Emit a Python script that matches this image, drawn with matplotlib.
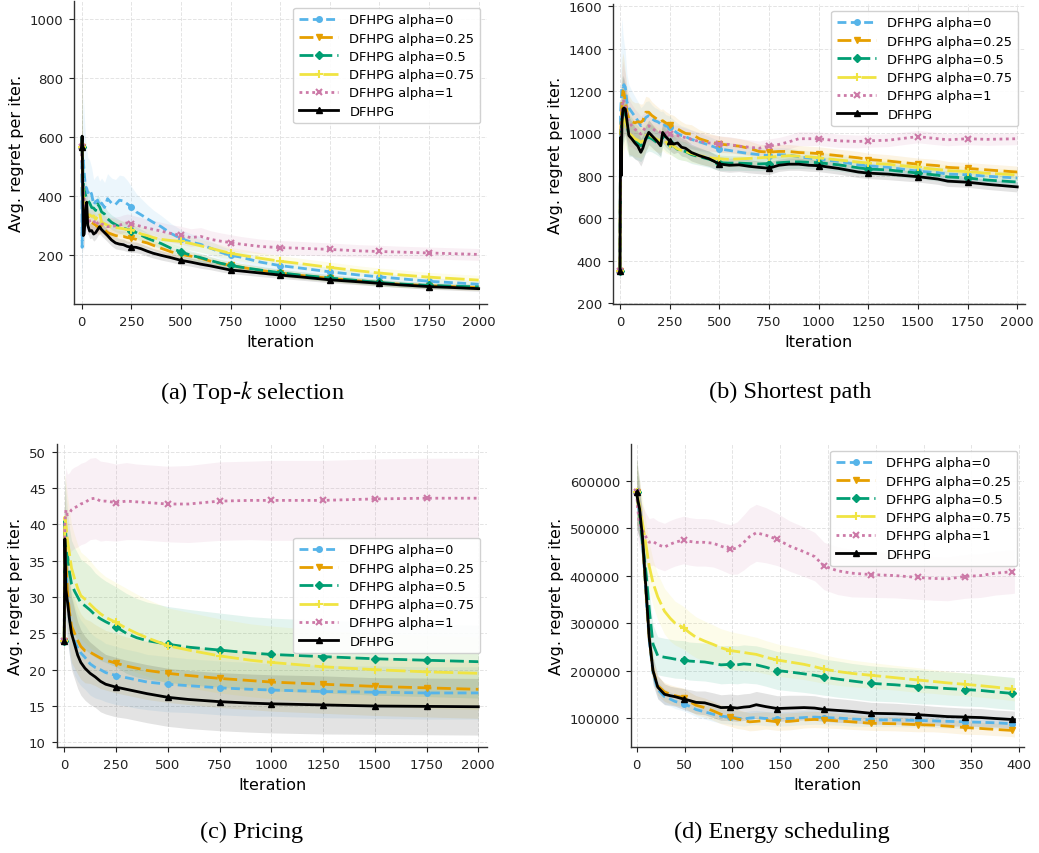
import matplotlib
matplotlib.use("Agg")
import matplotlib.pyplot as plt
import numpy as np

plt.rcParams["font.family"] = ["DejaVu Sans"]
plt.rcParams["mathtext.fontset"] = "stix"

# ---------------------------------------------------------------- labels
series_labels = ["DFHPG alpha=0", "DFHPG alpha=0.25", "DFHPG alpha=0.5",
                 "DFHPG alpha=0.75", "DFHPG alpha=1", "DFHPG"]
captions = ["(a) Top-$k$ selection", "(b) Shortest path",
            "(c) Pricing", "(d) Energy scheduling"]
x_label = "Iteration"
y_label = "Avg. regret per iter."

# ---------------------------------------------------------------- (a) Top-k selection
a_x = [0, 2, 5, 8, 12, 16, 20, 25, 30, 40, 50, 60, 70, 80, 90, 100, 115, 130, 150, 170,
       190, 210, 230, 250, 275, 300, 330, 360, 400, 450, 500, 550, 600, 650, 700, 750, 800,
       900, 1000, 1100, 1250, 1400, 1500, 1600, 1750, 1900, 2000]
a_alpha0 = [565, 225, 470, 520, 480, 450, 430, 425, 410, 420, 405, 370, 380, 385, 365, 375,
            360, 390, 375, 370, 385, 382, 372, 362, 345, 335, 322, 310, 295, 272, 255, 243,
            235, 222, 208, 198, 192, 175, 163, 155, 142, 131, 125, 119, 110, 104, 100]
a_alpha025 = [565, 560, 430, 400, 380, 360, 345, 335, 330, 315, 310, 305, 300, 295, 290, 300,
              285, 275, 270, 265, 262, 262, 258, 256, 252, 245, 240, 232, 222, 210, 201, 195,
              188, 178, 170, 164, 158, 147, 138, 130, 120, 111, 105, 100, 95, 91, 89]
a_alpha05 = [565, 600, 480, 440, 420, 410, 400, 390, 385, 375, 360, 358, 350, 372, 362, 345,
             338, 322, 310, 302, 295, 290, 286, 282, 275, 266, 256, 248, 238, 222, 210, 198,
             190, 180, 171, 164, 158, 148, 139, 131, 121, 112, 106, 101, 96, 93, 91]
a_alpha075 = [565, 580, 450, 400, 370, 355, 345, 340, 335, 335, 330, 332, 320, 330, 340, 310,
              305, 300, 295, 292, 290, 288, 285, 285, 278, 270, 265, 258, 252, 248, 245, 238,
              230, 222, 213, 205, 199, 188, 178, 170, 157, 145, 138, 132, 124, 118, 114]
a_alpha1 = [565, 500, 460, 420, 380, 350, 330, 315, 310, 315, 318, 318, 300, 308, 312, 305,
            300, 295, 296, 298, 300, 305, 308, 305, 300, 296, 290, 286, 280, 272, 266, 258,
            262, 252, 246, 241, 236, 228, 224, 222, 218, 213, 211, 209, 206, 203, 201]
a_dfhpg = [565, 602, 420, 265, 270, 310, 350, 378, 300, 280, 282, 270, 275, 285, 295, 285,
           275, 265, 250, 240, 236, 234, 228, 226, 225, 220, 212, 205, 198, 190, 181, 175,
           168, 162, 155, 148, 145, 138, 131, 125, 115, 108, 103, 98, 92, 88, 85]
a_sd_alpha0 = [300, 150, 200, 220, 200, 180, 160, 140, 120, 100, 90, 85, 85, 85, 85, 85,
               85, 85, 85, 85, 85, 85, 80, 70, 62, 55, 48, 42, 38, 34, 30, 28,
               26, 24, 22, 20, 19, 18, 17, 16, 15, 14, 14, 13, 13, 12, 12]
a_sd_alpha025 = [300, 120, 80, 60, 50, 45, 40, 35, 32, 30, 28, 26, 25, 24, 24, 24,
                 23, 22, 21, 20, 20, 19, 19, 18, 18, 17, 17, 16, 16, 15, 15, 14,
                 14, 14, 13, 13, 13, 12, 12, 12, 11, 11, 11, 10, 10, 10, 10]
a_sd_alpha05 = [300, 120, 90, 70, 60, 55, 50, 45, 40, 38, 36, 34, 32, 32, 30, 30,
                28, 26, 25, 24, 23, 22, 22, 21, 20, 20, 19, 18, 17, 16, 16, 15,
                15, 14, 14, 14, 13, 13, 12, 12, 12, 11, 11, 11, 10, 10, 10]
a_sd_alpha075 = [300, 120, 90, 70, 60, 55, 50, 45, 42, 40, 38, 36, 35, 34, 33, 32,
                 30, 30, 29, 28, 28, 27, 27, 26, 26, 25, 25, 24, 24, 23, 23, 22,
                 22, 21, 21, 20, 20, 19, 19, 18, 18, 17, 17, 17, 16, 16, 16]
a_sd_alpha1 = [300, 120, 90, 70, 60, 55, 50, 45, 42, 40, 38, 36, 35, 34, 33, 32,
               32, 31, 31, 30, 30, 30, 30, 30, 30, 30, 30, 30, 30, 30, 30, 30,
               30, 29, 28, 27, 26, 25, 24, 23, 22, 21, 21, 20, 20, 20, 20]
a_sd_dfhpg = [460, 150, 80, 50, 40, 35, 32, 30, 28, 26, 25, 24, 23, 22, 22, 22,
              21, 21, 20, 20, 19, 19, 18, 18, 18, 17, 17, 16, 16, 15, 15, 14,
              14, 13, 13, 12, 12, 12, 11, 11, 10, 10, 10, 9, 9, 9, 9]

# ---------------------------------------------------------------- (b) Shortest path
b_x = [0, 3, 6, 10, 15, 20, 27, 35, 45, 60, 75, 90, 105, 115, 130, 145, 160, 175, 190, 205,
       215, 230, 250, 270, 290, 310, 330, 360, 400, 450, 500, 550, 600, 650, 700, 750, 800,
       850, 900, 950, 1000, 1100, 1200, 1250, 1350, 1500, 1600, 1650, 1750, 1850, 2000]
b_alpha0 = [350, 1100, 1150, 1225, 1220, 1230, 1218, 1150, 1120, 1100, 1080, 1060, 1036, 1050,
            1075, 1084, 1070, 1060, 1055, 1045, 1050, 1035, 1030, 1015, 1000, 990, 985, 972,
            960, 945, 927, 920, 912, 905, 900, 895, 900, 898, 890, 884, 878, 868, 852, 847,
            840, 822, 815, 808, 805, 798, 790]
b_alpha025 = [350, 1000, 1050, 1150, 1200, 1190, 1150, 1100, 1070, 1055, 1050, 1055, 1053, 1060,
              1100, 1100, 1085, 1075, 1065, 1055, 1060, 1050, 1040, 1035, 1021, 1010, 1000, 997,
              975, 960, 950, 945, 940, 930, 915, 912, 915, 915, 910, 908, 905, 895, 885, 877,
              870, 855, 848, 840, 835, 828, 818]
b_alpha05 = [350, 950, 1000, 1080, 1100, 1100, 1095, 1040, 990, 982, 965, 955, 942, 950,
             975, 982, 975, 965, 955, 942, 990, 970, 955, 940, 925, 919, 915, 900,
             890, 878, 862, 860, 860, 858, 856, 858, 862, 865, 866, 864, 862, 852, 838, 832,
             828, 813, 803, 795, 790, 780, 771]
b_alpha075 = [350, 900, 950, 1020, 1050, 1060, 1068, 1030, 1000, 989, 975, 968, 958, 965,
              990, 997, 985, 978, 970, 966, 975, 960, 950, 940, 927, 920, 915, 905,
              895, 885, 880, 878, 880, 882, 885, 888, 892, 895, 893, 890, 885, 875, 865, 860,
              855, 840, 830, 825, 820, 812, 805]
b_alpha1 = [350, 900, 1000, 1100, 1160, 1150, 1140, 1080, 1050, 1036, 1020, 1010, 997, 1010,
            1030, 1036, 1025, 1015, 1010, 1005, 1010, 1000, 995, 990, 990, 985, 980, 972,
            962, 955, 950, 948, 940, 935, 930, 940, 948, 960, 975, 975, 975, 965, 962, 965,
            968, 985, 975, 970, 975, 972, 975]
b_dfhpg = [350, 980, 800, 1050, 1115, 1120, 1115, 1060, 990, 974, 955, 940, 911, 930,
           975, 1005, 990, 975, 960, 942, 1005, 985, 965, 950, 955, 935, 930, 910,
           895, 880, 856, 850, 852, 845, 840, 836, 850, 855, 855, 850, 848, 835, 818, 813,
           808, 796, 785, 775, 770, 760, 748]
b_sd_alpha0 = [90, 250, 330, 320, 250, 200, 170, 130, 110, 100, 95, 90, 85, 80,
               75, 70, 65, 62, 60, 58, 56, 54, 52, 50, 48, 46, 45, 44,
               42, 40, 38, 37, 36, 35, 34, 34, 33, 33, 33, 32, 32, 31, 30, 30,
               30, 29, 29, 28, 28, 28, 28]
b_sd_alpha025 = [90, 200, 220, 200, 180, 160, 140, 120, 110, 100, 95, 90, 85, 80,
                 75, 70, 65, 62, 60, 58, 56, 54, 52, 50, 48, 46, 45, 44,
                 42, 40, 38, 37, 36, 35, 34, 34, 33, 33, 33, 32, 32, 31, 30, 30,
                 30, 29, 29, 28, 28, 28, 28]
b_sd_alpha05 = [90, 180, 200, 190, 160, 140, 120, 110, 100, 90, 85, 80, 75, 70,
                68, 65, 62, 60, 58, 56, 54, 52, 50, 48, 46, 45, 44, 42,
                40, 38, 36, 35, 34, 33, 32, 32, 31, 31, 31, 30, 30, 29, 28, 28,
                28, 27, 27, 27, 26, 26, 26]
b_sd_alpha075 = [90, 180, 200, 190, 160, 140, 120, 110, 100, 90, 85, 80, 75, 70,
                 68, 65, 62, 60, 58, 56, 54, 52, 50, 48, 46, 45, 44, 42,
                 40, 38, 36, 35, 34, 33, 32, 32, 31, 31, 31, 30, 30, 29, 28, 28,
                 28, 27, 27, 27, 26, 26, 26]
b_sd_alpha1 = [90, 200, 220, 200, 180, 160, 140, 120, 110, 100, 95, 90, 85, 80,
               75, 70, 65, 62, 60, 58, 56, 54, 52, 50, 48, 46, 45, 44,
               42, 40, 38, 37, 36, 35, 34, 34, 33, 33, 33, 32, 32, 31, 30, 30,
               30, 29, 29, 28, 28, 28, 28]
b_sd_dfhpg = [100, 200, 200, 180, 160, 140, 120, 100, 90, 80, 75, 70, 65, 62,
              60, 58, 56, 54, 52, 50, 50, 48, 46, 45, 44, 42, 41, 40,
              38, 36, 34, 33, 32, 31, 30, 30, 29, 29, 29, 28, 28, 27, 26, 26,
              26, 25, 25, 25, 24, 24, 24]

# ---------------------------------------------------------------- (c) Pricing
c_x = [0, 3, 8, 15, 25, 35, 50, 65, 80, 100, 125, 150, 175, 200, 250, 300, 350, 400, 500,
       600, 750, 900, 1000, 1250, 1500, 1750, 2000]
c_alpha0 = [24, 40.5, 34, 30, 27, 25.5, 24, 23, 22.3, 21.7, 20.8, 20.3, 20.0, 19.6, 19.2,
            18.9, 18.6, 18.3, 18.0, 17.8, 17.5, 17.3, 17.2, 17.0, 16.9, 16.8, 16.8]
c_alpha025 = [24, 40, 35, 31, 28, 26, 25, 24, 23.2, 22.6, 22.4, 22.0, 21.6, 21.3, 20.9,
              20.5, 20.2, 19.9, 19.5, 19.2, 18.8, 18.5, 18.3, 18.0, 17.7, 17.5, 17.3]
c_alpha05 = [24, 40.5, 38.5, 36, 33.5, 31.8, 30.8, 30, 29.2, 28.8, 28.2, 27.5, 27.0, 26.6,
             25.9, 25.0, 24.4, 24.0, 23.5, 23.1, 22.7, 22.3, 22.1, 21.8, 21.5, 21.3, 21.1]
c_alpha075 = [24, 41, 40, 38, 36, 34, 32.5, 31.2, 30.2, 29.7, 29.0, 28.3, 27.7, 27.2, 26.5,
              25.7, 25.0, 24.4, 23.3, 22.7, 21.9, 21.3, 21.0, 20.4, 20.0, 19.7, 19.5]
c_alpha1 = [24, 40, 42, 41.3, 41.5, 42, 42.3, 42.5, 42.8, 43, 43.5, 43.6, 43.2, 43.2, 43.0,
            43.2, 43.1, 43.0, 42.8, 42.8, 43.2, 43.3, 43.3, 43.3, 43.5, 43.6, 43.6]
c_dfhpg = [24, 38, 31, 29.5, 27, 25, 23.5, 22, 21, 20.2, 19.5, 19, 18.4, 18.0, 17.6, 17.3,
           17.0, 16.7, 16.2, 15.9, 15.6, 15.4, 15.3, 15.15, 15.0, 14.95, 14.9]
c_sd_alpha0 = [6, 6, 6, 5.5, 5, 5, 4.8, 4.6, 4.5, 4.4, 4.3, 4.2, 4.1, 4.0, 4.0, 3.9,
               3.9, 3.8, 3.8, 3.7, 3.7, 3.7, 3.6, 3.6, 3.6, 3.6, 3.6]
c_sd_alpha025 = [6, 6, 6, 5.5, 5, 5, 4.8, 4.6, 4.5, 4.4, 4.3, 4.2, 4.2, 4.1, 4.1, 4.0,
                 4.0, 4.0, 4.0, 4.0, 4.0, 4.0, 4.0, 4.0, 4.0, 4.0, 4.0]
c_sd_alpha05 = [6, 6, 6, 6, 6, 6, 6, 6, 6, 6, 6, 5.8, 5.7, 5.6, 5.5, 5.5,
                5.4, 5.3, 5.2, 5.2, 5.1, 5.0, 5.0, 5.0, 5.0, 5.0, 5.0]
c_sd_alpha075 = [6, 6, 6, 6, 6, 6, 6, 6, 6, 6, 6, 5.8, 5.7, 5.6, 5.5, 5.5,
                 5.4, 5.3, 5.2, 5.2, 5.1, 5.0, 5.0, 5.0, 5.0, 5.0, 5.0]
c_sd_alpha1 = [6, 6, 5.8, 5.6, 5.6, 5.6, 5.6, 5.6, 5.6, 5.6, 5.6, 5.6, 5.5, 5.4, 5.3,
               5.3, 5.2, 5.2, 5.2, 5.3, 5.4, 5.4, 5.5, 5.5, 5.5, 5.5, 5.5]
c_sd_dfhpg = [6, 8, 6, 5.5, 5, 5, 4.8, 4.6, 4.5, 4.4, 4.3, 4.2, 4.2, 4.1, 4.1, 4.0,
              4.0, 4.0, 4.0, 4.0, 4.0, 4.0, 4.0, 4.0, 3.9, 3.9, 3.9]

# ---------------------------------------------------------------- (d) Energy scheduling
d_x = [0, 1, 3, 6, 10, 13, 17, 22, 29, 35, 40, 49, 55, 62, 71, 80, 88, 98, 105, 112,
       118, 125, 135, 147, 160, 175, 186, 196, 210, 225, 245, 270, 294, 310, 325, 343, 360,
       375, 392, 395]
d_alpha0 = [575000, 555000, 530000, 470000, 350000, 265000, 195000, 160000, 145000, 140000,
            135000, 130000, 125000, 118000, 113000, 108000, 104000, 102000, 100000, 98000,
            100000, 101000, 99000, 98000, 99000, 101000, 102000, 101000, 100000, 98000,
            96000, 96000, 95000, 94000, 93000, 92000, 91000, 90000, 88000, 87500]
d_alpha025 = [575000, 555000, 530000, 475000, 355000, 270000, 200000, 168000, 155000, 150000,
              147000, 143000, 135000, 127000, 122000, 115000, 108000, 102000, 98000, 95000,
              92000, 93000, 95000, 92000, 93000, 96000, 97000, 96000, 94000, 92000,
              89000, 88000, 86000, 85000, 83000, 80000, 78000, 76000, 74000, 73000]
d_alpha05 = [575000, 560000, 530000, 470000, 400000, 330000, 256000, 231000, 228000, 226000,
             224000, 223000, 220000, 219000, 218000, 215000, 212000, 213000, 212000, 214000,
             213000, 212000, 207000, 200000, 197000, 193000, 190000, 186000, 182000, 178000,
             173000, 170000, 166000, 164000, 162000, 160000, 158000, 155000, 152000, 151000]
d_alpha075 = [575000, 565000, 545000, 510000, 460000, 420000, 385000, 355000, 325000, 310000,
              300000, 290000, 280000, 270000, 262000, 255000, 248000, 242000, 240000, 238000,
              236000, 234000, 228000, 222000, 218000, 213000, 208000, 203000, 198000, 194000,
              190000, 185000, 180000, 177000, 174000, 171000, 168000, 165000, 161000, 160000]
d_alpha1 = [575000, 540000, 510000, 495000, 480000, 470000, 472000, 465000, 460000, 466000,
            470000, 475000, 472000, 470000, 470000, 468000, 462000, 455000, 458000, 470000,
            482000, 490000, 485000, 476000, 462000, 450000, 440000, 420000, 410000, 405000,
            402000, 400000, 396000, 394000, 393000, 398000, 400000, 405000, 408000, 409000]
d_dfhpg = [575000, 560000, 540000, 481000, 361000, 270000, 200000, 165000, 150000, 147000,
           145000, 140000, 137000, 133000, 132000, 127000, 122000, 122500, 121000, 123000,
           124000, 128000, 124000, 120000, 121000, 122000, 121000, 118000, 116000, 114000,
           110000, 109000, 107000, 105000, 103000, 102000, 101000, 99000, 97000, 96500]
d_sd_alpha0 = [70000, 60000, 50000, 40000, 30000, 25000, 20000, 18000, 16000, 15000,
               15000, 15000, 15000, 15000, 15000, 15000, 15000, 15000, 15000, 15000,
               15000, 15000, 15000, 15000, 15000, 15000, 15000, 15000, 15000, 15000,
               14000, 14000, 14000, 14000, 14000, 14000, 13000, 13000, 13000, 13000]
d_sd_alpha025 = [70000, 60000, 50000, 40000, 30000, 25000, 22000, 20000, 20000, 20000,
                 20000, 20000, 20000, 20000, 20000, 20000, 20000, 20000, 20000, 19000,
                 19000, 19000, 18000, 18000, 18000, 17000, 17000, 17000, 16000, 16000,
                 15000, 15000, 15000, 14000, 14000, 14000, 13000, 13000, 13000, 13000]
d_sd_alpha05 = [70000, 60000, 55000, 50000, 45000, 42000, 40000, 40000, 40000, 40000,
                40000, 40000, 40000, 40000, 40000, 40000, 40000, 40000, 40000, 40000,
                40000, 40000, 40000, 40000, 40000, 39000, 39000, 38000, 38000, 37000,
                37000, 36000, 36000, 35000, 35000, 35000, 34000, 34000, 34000, 34000]
d_sd_alpha075 = [70000, 60000, 55000, 50000, 48000, 48000, 48000, 48000, 48000, 48000,
                 46000, 45000, 44000, 43000, 42000, 41000, 40000, 40000, 39000, 38000,
                 37000, 36000, 35000, 34000, 33000, 32000, 31000, 30000, 29000, 28000,
                 27000, 26000, 26000, 25000, 25000, 24000, 24000, 24000, 24000, 24000]
d_sd_alpha1 = [70000, 60000, 55000, 52000, 50000, 50000, 50000, 50000, 50000, 50000,
               50000, 50000, 50000, 50000, 50000, 50000, 50000, 52000, 55000, 58000,
               60000, 60000, 58000, 55000, 53000, 52000, 51000, 50000, 50000, 50000,
               48000, 47000, 46000, 46000, 46000, 46000, 46000, 46000, 46000, 46000]
d_sd_dfhpg = [80000, 70000, 60000, 50000, 40000, 35000, 30000, 25000, 22000, 20000,
              20000, 22000, 23000, 24000, 25000, 26000, 27000, 28000, 28000, 28000,
              28000, 28000, 28000, 27000, 27000, 26000, 26000, 25000, 25000, 24000,
              23000, 22000, 21000, 20000, 20000, 19000, 19000, 18000, 18000, 18000]

# ---------------------------------------------------------------- styles
colors = ["#56B4E9", "#E69F00", "#009E73", "#F0E442", "#CC79A7", "#000000"]
linestyles = [(0, (3.2, 1.6)), (0, (5, 2)), (0, (5, 1.8)), (0, (7, 1.6)),
              (0, (1, 1.3)), "-"]
markers = ["o", "v", "D", "+", "x", "^"]
marker_sizes = [4, 4.5, 4, 6, 4, 4]

panels = [
    dict(x=a_x, ys=[a_alpha0, a_alpha025, a_alpha05, a_alpha075, a_alpha1, a_dfhpg],
         sds=[a_sd_alpha0, a_sd_alpha025, a_sd_alpha05, a_sd_alpha075, a_sd_alpha1, a_sd_dfhpg],
         mark_step=250, mark_stop=2000, xticks=np.arange(0, 2001, 250),
         yticks=[200, 400, 600, 800, 1000], xlim=(-39, 2042), ylim=(33, 1060),
         rect=[74, 2, 487, 305], legend_loc="upper right"),
    dict(x=b_x, ys=[b_alpha0, b_alpha025, b_alpha05, b_alpha075, b_alpha1, b_dfhpg],
         sds=[b_sd_alpha0, b_sd_alpha025, b_sd_alpha05, b_sd_alpha075, b_sd_alpha1, b_sd_dfhpg],
         mark_step=250, mark_stop=2000, xticks=np.arange(0, 2001, 250),
         yticks=[200, 400, 600, 800, 1000, 1200, 1400, 1600], xlim=(-35, 2039), ylim=(196, 1610),
         rect=[613, 5, 1025, 305], legend_loc="upper right"),
    dict(x=c_x, ys=[c_alpha0, c_alpha025, c_alpha05, c_alpha075, c_alpha1, c_dfhpg],
         sds=[c_sd_alpha0, c_sd_alpha025, c_sd_alpha05, c_sd_alpha075, c_sd_alpha1, c_sd_dfhpg],
         mark_step=250, mark_stop=2000, xticks=np.arange(0, 2001, 250),
         yticks=[10, 15, 20, 25, 30, 35, 40, 45, 50], xlim=(-35, 2042), ylim=(9.36, 51.06),
         rect=[57, 445, 487, 748], legend_loc="center right"),
    dict(x=d_x, ys=[d_alpha0, d_alpha025, d_alpha05, d_alpha075, d_alpha1, d_dfhpg],
         sds=[d_sd_alpha0, d_sd_alpha025, d_sd_alpha05, d_sd_alpha075, d_sd_alpha1, d_sd_dfhpg],
         mark_step=49, mark_stop=395, xticks=np.arange(0, 401, 50),
         yticks=[100000, 200000, 300000, 400000, 500000, 600000], xlim=(-6, 405),
         ylim=(39000, 677000),
         rect=[631, 445, 1024, 748], legend_loc="upper right"),
]
caption_pos = [(252, 392), (790, 392), (252, 832), (782, 832)]

W, H = 1039, 854
fig = plt.figure(figsize=(W / 100, H / 100), dpi=100)

for p, cap, (cx, cy) in zip(panels, captions, caption_pos):
    l, t, r, b = p["rect"]
    ax = fig.add_axes([l / W, 1 - b / H, (r - l) / W, (b - t) / H])
    x = np.asarray(p["x"], dtype=float)
    every = [i for i, v in enumerate(p["x"]) if v % p["mark_step"] == 0 and v < p["mark_stop"]]
    for y, sd, c in zip(p["ys"], p["sds"], colors):
        y = np.asarray(y, dtype=float)
        sd = np.asarray(sd, dtype=float)
        ax.fill_between(x, y - sd, y + sd, color=c, alpha=0.11, lw=0)
    for y, c, ls, m, ms, lab in zip(p["ys"], colors, linestyles, markers, marker_sizes,
                                    series_labels):
        ax.plot(x, y, color=c, ls=ls, lw=2, marker=m, ms=ms, markevery=every,
                mew=1.5 if m in ("+", "x") else 1, label=lab)
    ax.set_xlim(*p["xlim"])
    ax.set_ylim(*p["ylim"])
    ax.set_xticks(p["xticks"])
    ax.set_yticks(p["yticks"])
    ax.tick_params(labelsize=9.5, length=3.5, width=0.8, pad=4.5, colors="#222222")
    for s in ("top", "right"):
        ax.spines[s].set_visible(False)
    for s in ("left", "bottom"):
        ax.spines[s].set_color("#333333")
        ax.spines[s].set_linewidth(1.0)
    ax.grid(True, ls="--", lw=0.7, color="#dddddd", alpha=0.8)
    ax.set_axisbelow(True)
    ax.set_xlabel(x_label, fontsize=11.5, labelpad=4)
    ax.set_ylabel(y_label, fontsize=11.5, labelpad=4)
    ax.legend(loc=p["legend_loc"], fontsize=9.4, labelspacing=0.4, handlelength=3.0,
              handletextpad=0.85, borderpad=0.45, framealpha=0.9, edgecolor="#cccccc",
              fancybox=True)
    fig.text(cx / W, 1 - cy / H, cap, ha="center", va="center", fontsize=17.5,
             family="Liberation Serif")

fig.savefig("out.png", dpi=100)
